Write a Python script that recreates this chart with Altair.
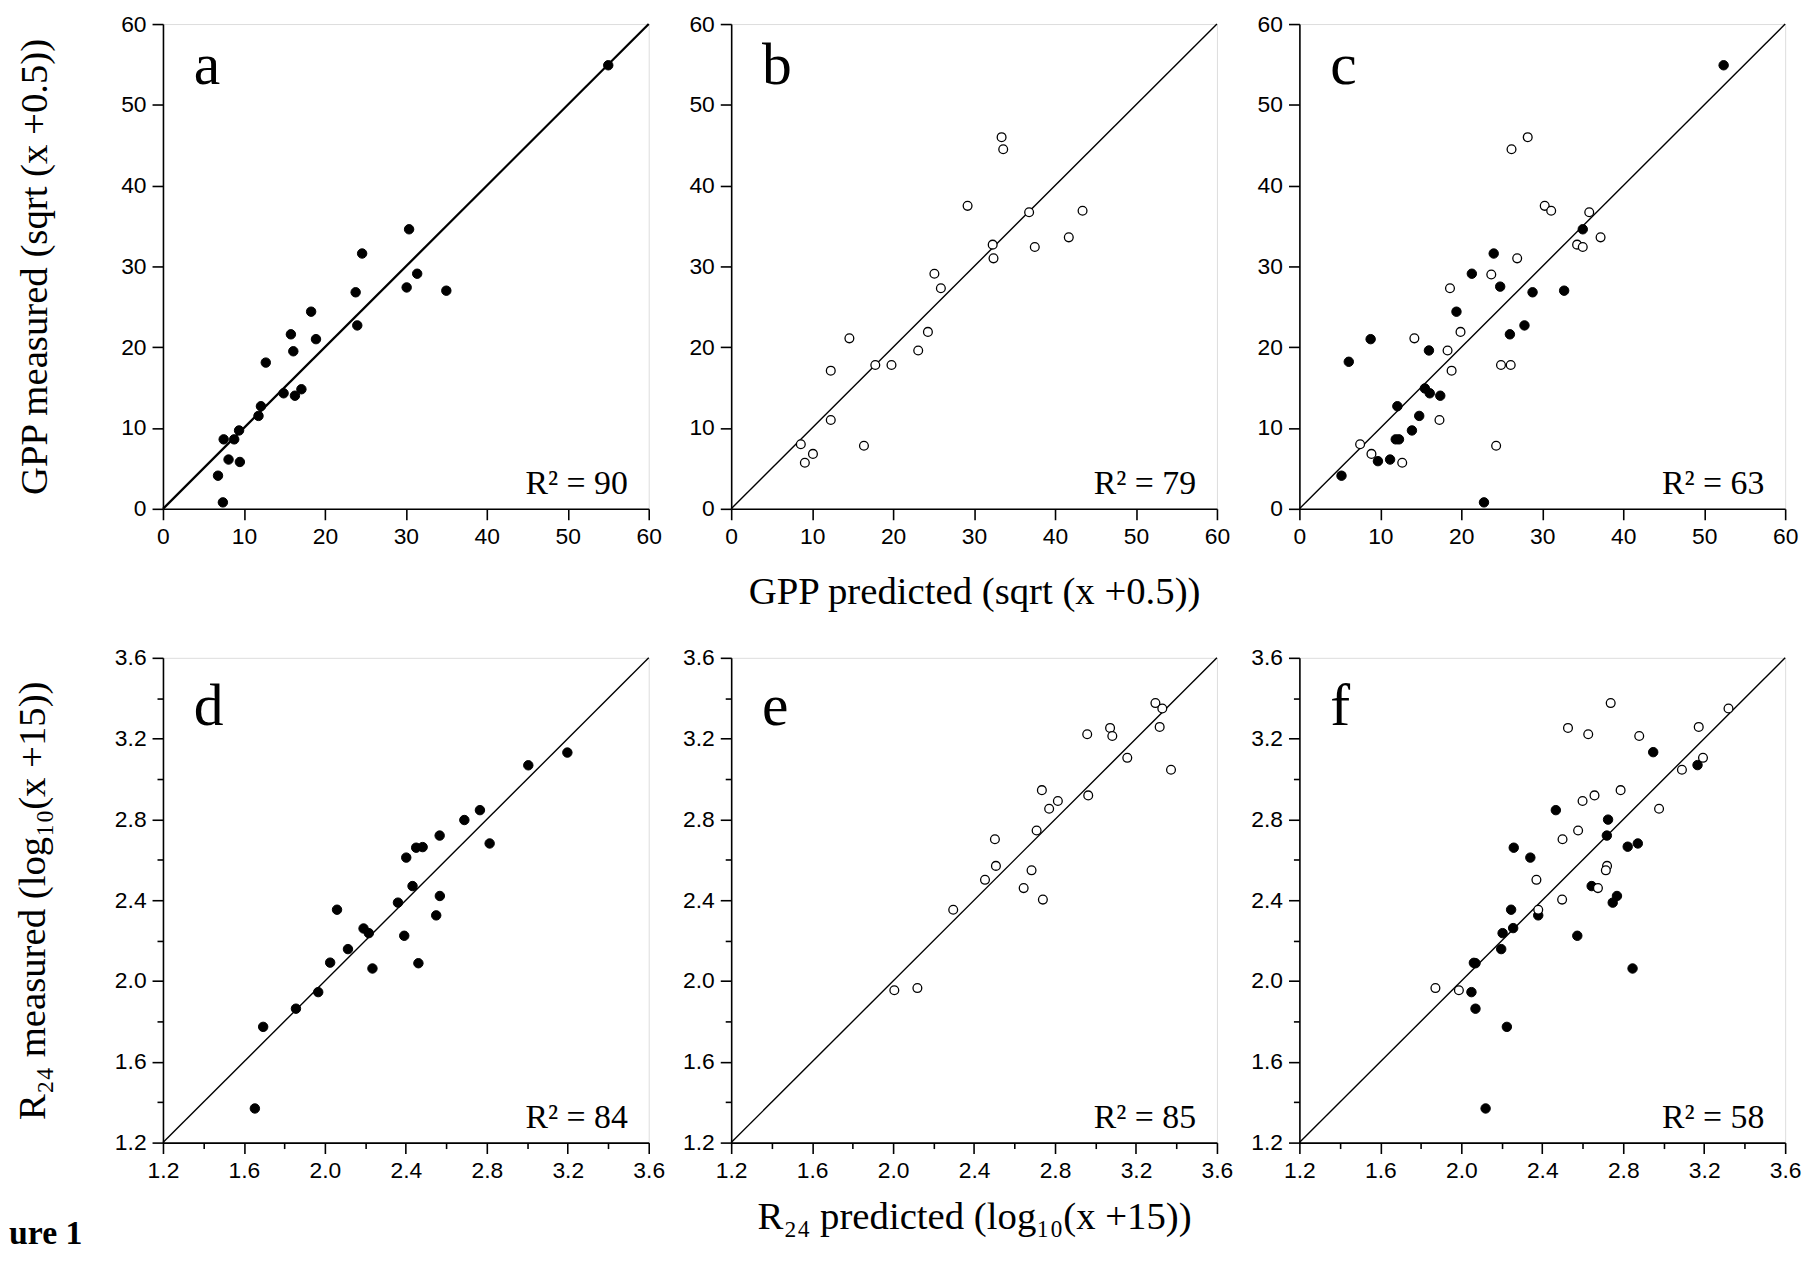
import altair as alt
import pandas as pd

# ---------------- data ----------------
GPP_DOMAIN = [0, 60]
R24_DOMAIN = [1.2, 3.6]
GPP_TICKS = [0, 10, 20, 30, 40, 50, 60]
R24_TICKS = [1.2, 1.4, 1.6, 1.8, 2.0, 2.2, 2.4, 2.6, 2.8, 3.0, 3.2, 3.4, 3.6]
PANEL_LETTERS = ["a", "b", "c", "d", "e", "f"]
R2_LABELS = ["R\u00b2 = 90", "R\u00b2 = 79", "R\u00b2 = 63", "R\u00b2 = 84", "R\u00b2 = 85", "R\u00b2 = 58"]

# panel a (filled)
a_pred = [55.0, 30.4, 24.6, 31.4, 30.1, 35.0, 23.8, 24.0, 18.3, 18.9, 15.8, 16.1, 12.7,
          14.9, 16.3, 17.1, 12.1, 11.8, 9.4, 7.5, 8.8, 8.1, 9.5, 6.8, 7.4]
a_meas = [54.9, 34.6, 31.6, 29.1, 27.4, 27.0, 26.8, 22.7, 24.4, 21.0, 21.6, 19.5, 18.1,
          14.3, 14.0, 14.8, 12.7, 11.5, 9.7, 8.6, 8.6, 6.1, 5.8, 4.1, 0.8]
# panel b (open)
b_pred = [33.4, 33.6, 29.2, 36.8, 43.4, 41.7, 37.5, 32.3, 32.4, 25.1, 25.9, 24.3, 23.1,
          14.6, 17.8, 19.8, 12.3, 12.3, 16.4, 8.6, 10.1, 9.1]
b_meas = [46.0, 44.5, 37.5, 36.7, 36.9, 33.6, 32.4, 32.7, 31.0, 29.1, 27.3, 21.9, 19.6,
          21.1, 17.8, 17.8, 17.1, 11.0, 7.8, 8.0, 6.8, 5.7]
# panel c
c_f_pred = [52.4, 35.0, 24.0, 21.3, 24.8, 28.8, 32.7, 19.4, 27.8, 26.0, 8.8, 16.0, 6.1,
            15.5, 16.1, 17.4, 12.1, 14.8, 13.9, 11.9, 12.3, 11.2, 9.7, 5.2, 22.8]
c_f_meas = [54.9, 34.6, 31.6, 29.1, 27.5, 26.8, 27.0, 24.4, 22.7, 21.6, 21.0, 19.6, 18.2,
            14.9, 14.3, 14.0, 12.7, 11.5, 9.7, 8.6, 8.6, 6.1, 5.9, 4.1, 0.8]
c_o_pred = [28.2, 26.2, 30.3, 31.1, 35.8, 37.2, 34.3, 35.0, 26.9, 23.7, 18.6, 19.9, 14.2,
            18.3, 24.9, 26.1, 18.8, 17.3, 24.3, 7.5, 8.9, 12.7]
c_o_meas = [46.0, 44.5, 37.5, 36.9, 36.7, 33.6, 32.7, 32.4, 31.0, 29.0, 27.3, 21.9, 21.1,
            19.6, 17.8, 17.8, 17.1, 11.0, 7.8, 8.0, 6.8, 5.7]
# panel d (filled)
d_pred = [3.198, 3.005, 2.766, 2.689, 2.814, 2.567, 2.451, 2.483, 2.402, 2.433, 2.568, 2.361,
          2.550, 2.060, 2.191, 2.217, 2.392, 2.114, 2.026, 2.235, 2.462, 1.967, 1.857, 1.695, 1.654]
d_meas = [3.131, 3.068, 2.846, 2.797, 2.681, 2.720, 2.660, 2.663, 2.611, 2.470, 2.421, 2.388,
          2.325, 2.353, 2.260, 2.237, 2.224, 2.158, 2.091, 2.062, 2.088, 1.945, 1.863, 1.773, 1.369]
# panel e (open)
e_pred = [3.296, 3.330, 3.317, 3.072, 3.083, 2.959, 3.157, 3.373, 2.735, 2.964, 2.814, 2.771,
          2.709, 2.503, 2.508, 2.684, 2.454, 2.645, 2.740, 2.297, 2.120, 2.006]
e_meas = [3.376, 3.349, 3.258, 3.253, 3.213, 3.222, 3.105, 3.046, 2.945, 2.919, 2.891, 2.853,
          2.745, 2.702, 2.570, 2.548, 2.501, 2.460, 2.403, 2.353, 1.965, 1.954]
# panel f
f_f_pred = [2.948, 3.167, 2.467, 2.725, 2.719, 2.872, 2.822, 2.259, 2.341, 2.644, 2.769, 2.748,
            2.380, 2.246, 2.256, 2.204, 2.573, 2.197, 2.062, 2.846, 2.070, 2.050, 2.070, 2.225, 2.120]
f_f_meas = [3.133, 3.069, 2.846, 2.799, 2.720, 2.681, 2.665, 2.660, 2.611, 2.470, 2.421, 2.388,
            2.325, 2.353, 2.262, 2.237, 2.224, 2.158, 2.090, 2.062, 2.088, 1.945, 1.863, 1.773, 1.369]
f_o_pred = [2.738, 3.320, 2.527, 2.627, 2.879, 3.173, 3.194, 3.090, 2.787, 2.658, 2.599, 2.977,
            2.577, 2.500, 2.720, 2.714, 2.371, 2.675, 2.498, 2.380, 1.872, 1.988]
f_o_meas = [3.376, 3.349, 3.253, 3.222, 3.213, 3.258, 3.105, 3.046, 2.945, 2.919, 2.891, 2.853,
            2.745, 2.702, 2.570, 2.548, 2.501, 2.460, 2.403, 2.353, 1.965, 1.954]

GPP_X_TITLE = "GPP predicted (sqrt (x +0.5))"
GPP_Y_TITLE = "GPP measured (sqrt (x +0.5))"
R24_X_TITLE = "R\u2082\u2084 predicted (log\u2081\u2080(x +15))"
R24_Y_TITLE = "R\u2082\u2084 measured (log\u2081\u2080(x +15))"
FIG_LABEL = "ure 1"

SERIF = "Liberation Serif"
SANS = "Liberation Sans"
W, H = 489, 488


def make_axis(kind, title, title_pad):
    kw = dict(domainColor="black", domainWidth=1.6, tickColor="black", tickWidth=1.6,
              labelColor="black", labelFont=SANS, labelFontSize=23, labelPadding=6,
              labelFlush=False, labelOverlap=False, grid=False,
              titleFont=SERIF, titleFontSize=39, titleFontWeight="normal", titleColor="black")
    if kind == "gpp":
        kw.update(values=GPP_TICKS, tickSize=11, format="d")
    else:
        kw.update(values=R24_TICKS,
                  tickSize={"condition": {"test": "round(datum.value*10) % 4 == 2", "value": 6},
                            "value": 11},
                  labelExpr="round(datum.value*10) % 4 == 2 ? '' : format(datum.value, '.1f')")
    if title:
        kw.update(title=title, titlePadding=title_pad)
    else:
        kw.update(title=None)
    return alt.Axis(**kw)


def panel(i, kind, filled, opened, xtitle, ytitle, letter_y, line_w, extra=None):
    dom = GPP_DOMAIN if kind == "gpp" else R24_DOMAIN
    xpad = 24 if kind == "gpp" else 15
    ypad = 67 if kind == "gpp" else 62
    xenc = alt.X("pred:Q", scale=alt.Scale(domain=dom, nice=False, zero=False),
                 axis=make_axis(kind, xtitle, xpad))
    yenc = alt.Y("meas:Q", scale=alt.Scale(domain=dom, nice=False, zero=False),
                 axis=make_axis(kind, ytitle, ypad))
    layers = [alt.Chart(pd.DataFrame({"pred": dom, "meas": dom}))
              .mark_line(color="black", strokeWidth=line_w)
              .encode(x=xenc, y=yenc)]
    if filled is not None:
        layers.append(alt.Chart(pd.DataFrame({"pred": filled[0], "meas": filled[1]}))
                      .mark_point(shape="circle", filled=True, fill="black", stroke="black",
                                  strokeWidth=1, size=90, opacity=1)
                      .encode(x=xenc, y=yenc))
    if opened is not None:
        layers.append(alt.Chart(pd.DataFrame({"pred": opened[0], "meas": opened[1]}))
                      .mark_point(shape="circle", filled=True, fill="white", stroke="black",
                                  strokeWidth=1.3, size=78, opacity=1)
                      .encode(x=xenc, y=yenc))
    layers.append(alt.Chart(pd.DataFrame({"t": [PANEL_LETTERS[i]]}))
                  .mark_text(font=SERIF, fontSize=60, align="left", baseline="alphabetic",
                             color="black")
                  .encode(x=alt.value(31), y=alt.value(letter_y), text="t:N"))
    layers.append(alt.Chart(pd.DataFrame({"t": [R2_LABELS[i]]}))
                  .mark_text(font=SERIF, fontSize=34, align="right", baseline="alphabetic",
                             color="black")
                  .encode(x=alt.value(468), y=alt.value(473), text="t:N"))
    if extra is not None:
        layers.append(extra)
    return alt.layer(*layers).properties(width=W, height=H)


fig_text = (alt.Chart(pd.DataFrame({"t": [FIG_LABEL]}))
            .mark_text(font=SERIF, fontSize=34, fontWeight="bold", align="left",
                       baseline="alphabetic", color="black")
            .encode(x=alt.value(-155), y=alt.value(590), text="t:N"))

pa = panel(0, "gpp", (a_pred, a_meas), None, None, GPP_Y_TITLE, 60, 2.3)
pb = panel(1, "gpp", None, (b_pred, b_meas), GPP_X_TITLE, None, 60, 1.4)
pc = panel(2, "gpp", (c_f_pred, c_f_meas), (c_o_pred, c_o_meas), None, None, 60, 1.4)
pd_ = panel(3, "r24", (d_pred, d_meas), None, None, R24_Y_TITLE, 68, 1.4, extra=fig_text)
pe = panel(4, "r24", None, (e_pred, e_meas), R24_X_TITLE, None, 68, 1.4)
pf = panel(5, "r24", (f_f_pred, f_f_meas), (f_o_pred, f_o_meas), None, None, 68, 1.4)

chart = (alt.concat(pa, pb, pc, pd_, pe, pf, columns=3,
                    spacing={"row": 150, "column": 83}, bounds="flush")
         .properties(padding={"left": 0, "top": 0, "right": 8, "bottom": 2})
         .configure_view(stroke="black", strokeWidth=1.6)
         .configure(background="white"))

chart.save("out.html", embed_options={"renderer": "svg", "actions": False})
